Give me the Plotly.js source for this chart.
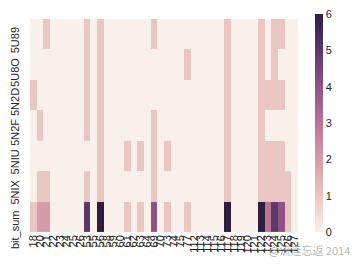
<!DOCTYPE html>
<html><head><meta charset="utf-8">
<script src="https://cdn.plot.ly/plotly-3.0.1.min.js"></script>
<style>html,body{margin:0;padding:0;background:#fff}#c{width:361px;height:265px}</style>
</head><body><div id="c"></div>
<script>
const colLabels = ["18","20","21","22","23","24","25","26","53","55","56","58","59","60","61","62","63","64","69","70","73","74","75","77",
  "112","113","114","115","116","117","118","119","120","121","122","123","124","125","126","127"];
const rowLabels = ["5U89","5U8O","5N2D","5N2F","5NIU","5NIX","bit_sum"];
const r5U89 = [0,0,1,0,0,0,0,0,1,0, 1,0,0,0,0,0,0,0,1,0, 0,0,0,0,0,0,0,0,0,1, 0,0,0,0,1,0,1,1,0,0];
const r5U8O = [0,0,0,0,0,0,0,0,1,0, 1,0,0,0,0,0,0,0,0,0, 0,0,0,1,0,0,0,0,0,1, 0,0,0,0,1,0,1,0,0,0];
const r5N2D = [1,0,0,0,0,0,0,0,1,0, 1,0,0,0,0,0,0,0,0,0, 0,0,0,0,0,0,0,0,0,1, 0,0,0,0,1,1,1,1,0,0];
const r5N2F = [0,1,0,0,0,0,0,0,1,0, 1,0,0,0,0,0,0,0,1,0, 0,0,0,0,0,0,0,0,0,1, 0,0,0,0,1,0,0,0,0,0];
const r5NIU = [0,0,0,0,0,0,0,0,0,0, 1,0,0,0,1,0,1,0,1,0, 1,0,0,0,0,0,0,0,0,1, 0,0,0,0,1,1,1,1,0,0];
const r5NIX = [0,1,1,0,0,0,0,0,1,0, 1,0,0,0,0,0,0,0,1,0, 0,0,0,0,0,0,0,0,0,1, 0,0,0,0,1,1,1,1,1,0];
const rBitSum = [1,2,2,0,0,0,0,0,5,0, 6,0,0,0,1,0,1,0,4,0, 1,0,0,1,0,0,0,0,0,6, 0,0,0,0,6,3,5,4,1,0];
const colorTicks = [0,1,2,3,4,5,6];

// seaborn-style cubehelix colormap (light=.95, dark=.15)
function cubehelix(x){
  const gamma=1,start=0,rot=0.4,hue=0.8;
  const xg=Math.pow(x,gamma), a=hue*xg*(1-xg)/2, phi=2*Math.PI*(start/3+rot*x);
  const c=Math.cos(phi), s=Math.sin(phi);
  const cl=v=>Math.round(255*Math.min(1,Math.max(0,v)));
  return 'rgb('+cl(xg+a*(-0.14861*c+1.78277*s))+','+cl(xg+a*(-0.29227*c-0.90649*s))+','+cl(xg+a*(1.97294*c))+')';
}
const cs=[]; for(let i=0;i<=24;i++){const t=i/24; cs.push([t,cubehelix(0.95-0.8*t)]);}

const z=[r5U89,r5U8O,r5N2D,r5N2F,r5NIU,r5NIX,rBitSum];
const fam='"Liberation Sans", Arial, sans-serif';
const font={family:fam,size:11,color:'#262626'};
const cv=document.createElement('canvas').getContext('2d'); cv.font='11px '+fam;
const ann=rowLabels.map(r=>{const w=cv.measureText(r).width;
  return {xref:'paper',yref:'y',x:-0.03,y:r,xanchor:'right',yanchor:'middle',yshift:-(w/2-7),
  text:r,textangle:-90,showarrow:false,font:font,borderpad:0};});
ann.push({xref:'paper',yref:'paper',x:(352-30)/268,y:-(250-232)/218,xanchor:'right',yanchor:'middle',
  text:'@流连忘返 2014',showarrow:false,font:{family:'"Noto Sans CJK SC", sans-serif',size:11,color:'rgba(170,170,170,0.85)'}});

Plotly.newPlot('c',[{type:'heatmap',z:z,x:colLabels,y:rowLabels,zmin:0,zmax:6,colorscale:cs,
  colorbar:{x:(315-30)/268,xanchor:'left',xpad:0,ypad:0,thickness:8,len:1,y:0.5,yanchor:'middle',
    outlinewidth:0,ticks:'',tickvals:colorTicks,tickfont:font,ticklabelstandoff:7},hoverinfo:'none'}],
 {width:361,height:265,margin:{l:30,r:63,t:14,b:33},paper_bgcolor:'#fff',plot_bgcolor:'#fff',font:font,
  xaxis:{type:'category',tickmode:'array',tickvals:colLabels,ticktext:colLabels,tickangle:-90,showgrid:false,zeroline:false,ticks:'',tickfont:font,showline:false},
  yaxis:{type:'category',autorange:'reversed',showgrid:false,zeroline:false,showticklabels:false,ticks:''},
  annotations:ann,showlegend:false},{staticPlot:true,displayModeBar:false});
</script></body></html>
